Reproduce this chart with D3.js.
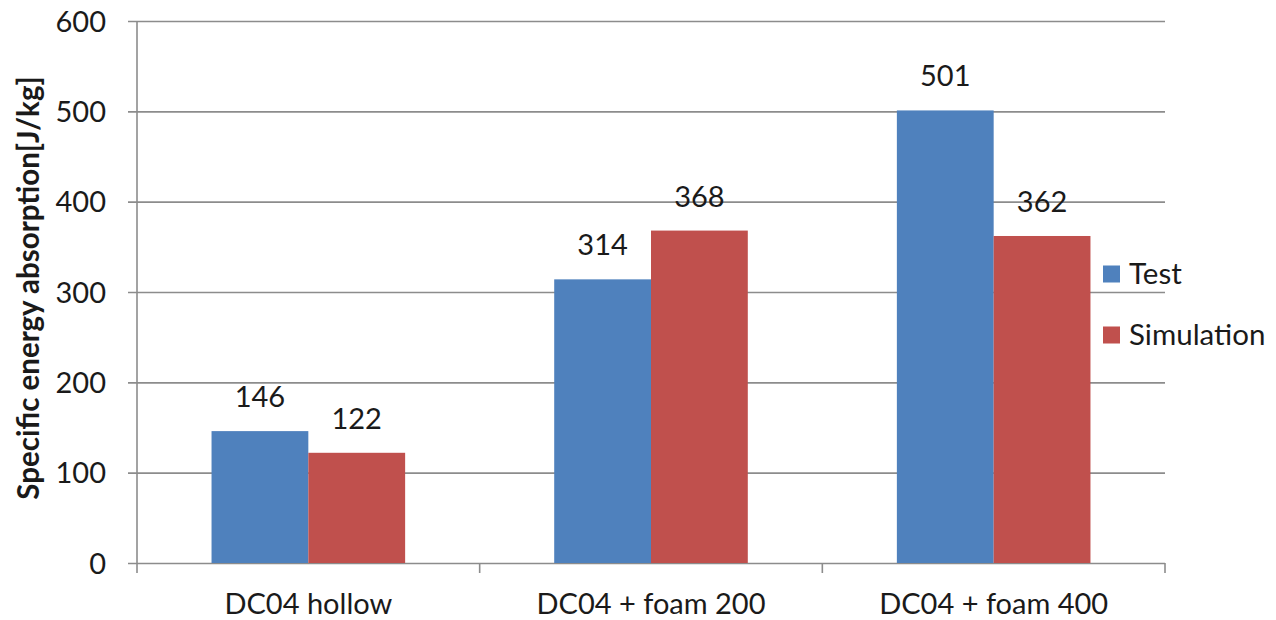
<!DOCTYPE html>
<html>
<head>
<meta charset="utf-8">
<script src="https://cdn.jsdelivr.net/npm/d3@7"></script>
<style>
  html, body { margin: 0; padding: 0; background: #ffffff; }
  svg { display: block; }
  text { font-family: Lato, "Open Sans", sans-serif; fill: #1a1a1a; }
</style>
</head>
<body>
<svg id="chart" width="1276" height="620"></svg>
<script>
// Specific energy absorption for hollow and foam-filled DC04 tubes
const categories = ["DC04 hollow", "DC04 + foam 200", "DC04 + foam 400"];
const seriesNames = ["Test", "Simulation"];
const testValues = [146, 314, 501];
const simulationValues = [122, 368, 362];
const yTicks = [0, 100, 200, 300, 400, 500, 600];

const colors = { Test: "#4F81BD", Simulation: "#C0504D" };
const gridColor = "#8c8c8c";

const rows = categories.map((c, i) => ({
  category: c,
  values: [
    { series: "Test", value: testValues[i] },
    { series: "Simulation", value: simulationValues[i] }
  ]
}));

const svg = d3.select("#chart");
const plot = { left: 137, right: 1165, top: 21, bottom: 563 };

// each category occupies an equal third of the plot; bars sit in the middle
const x0 = d3.scaleBand()
  .domain(categories)
  .range([plot.left, plot.right])
  .padding(0);
const groupW = x0.bandwidth();
const x1 = d3.scaleBand()
  .domain(seriesNames)
  .range([0, groupW])
  .paddingOuter(0.77)
  .paddingInner(0);

const y = d3.scaleLinear().domain([0, 600]).range([plot.bottom, plot.top]);

// horizontal gridlines with left tick marks
const yAxis = d3.axisLeft(y).tickValues(yTicks).tickSize(-(plot.right - plot.left))
  .tickFormat(d3.format("d"));
const gy = svg.append("g").attr("transform", `translate(${plot.left},0)`).call(yAxis);
gy.select(".domain").remove();
gy.selectAll(".tick line").attr("stroke", gridColor).attr("stroke-width", 1.6)
  .attr("x1", -9);
gy.selectAll(".tick text")
  .attr("font-size", 29)
  .attr("fill", "#1a1a1a")
  .attr("font-family", "Lato, sans-serif")
  .attr("x", -31)
  .attr("dy", "0.35em");

// vertical axis line
svg.append("line")
  .attr("x1", plot.left).attr("x2", plot.left)
  .attr("y1", plot.top).attr("y2", plot.bottom)
  .attr("stroke", gridColor).attr("stroke-width", 1.6);

// category axis: ticks at group boundaries
const xEdges = categories.map(c => x0(c)).concat([plot.right]);
svg.append("g").selectAll("line").data(xEdges).join("line")
  .attr("x1", d => d).attr("x2", d => d)
  .attr("y1", plot.bottom).attr("y2", plot.bottom + 10)
  .attr("stroke", gridColor).attr("stroke-width", 1.6);

// bars
const groups = svg.append("g").selectAll("g").data(rows).join("g")
  .attr("transform", d => `translate(${x0(d.category)},0)`);

groups.selectAll("rect").data(d => d.values).join("rect")
  .attr("x", d => x1(d.series))
  .attr("width", x1.bandwidth())
  .attr("y", d => y(d.value))
  .attr("height", d => y(0) - y(d.value))
  .attr("fill", d => colors[d.series]);

// value labels
groups.selectAll("text.value").data(d => d.values).join("text")
  .attr("class", "value")
  .attr("x", d => x1(d.series) + x1.bandwidth() / 2)
  .attr("y", d => y(d.value) - 24)
  .attr("text-anchor", "middle")
  .attr("font-size", 29)
  .text(d => d.value);

// category labels
svg.append("g").selectAll("text").data(categories).join("text")
  .attr("x", d => x0(d) + groupW / 2)
  .attr("y", 614)
  .attr("text-anchor", "middle")
  .attr("font-size", 29)
  .text(d => d);

// y-axis title
svg.append("text")
  .attr("transform", "translate(39,288) rotate(-90)")
  .attr("text-anchor", "middle")
  .attr("font-size", 29.5)
  .attr("font-weight", "bold")
  .text("Specific energy absorption[J/kg]");

// legend
const legend = svg.append("g").selectAll("g").data(seriesNames).join("g")
  .attr("transform", (d, i) => `translate(1103,${274 + i * 61})`);
legend.append("rect")
  .attr("x", 0).attr("y", -8.5).attr("width", 17).attr("height", 17)
  .attr("fill", d => colors[d]);
legend.append("text")
  .attr("x", 26).attr("y", 0).attr("dy", "0.35em")
  .attr("font-size", 29.5)
  .text(d => d);
</script>
</body>
</html>
